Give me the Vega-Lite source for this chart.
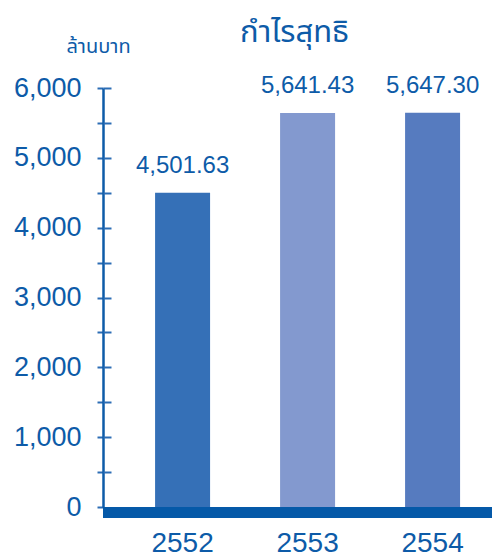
{
  "$schema": "https://vega.github.io/schema/vega-lite/v6.json",
  "autosize": {"type": "none"},
  "width": 389,
  "height": 419,
  "padding": {"left": 103, "top": 88, "right": 0, "bottom": 51},
  "background": "white",
  "config": {"view": {"stroke": null}, "font": "Liberation Sans"},
  "data": {
    "values": [
      {"year": "2552", "profit": 4501.63},
      {"year": "2553", "profit": 5641.43},
      {"year": "2554", "profit": 5647.30}
    ]
  },
  "layer": [
    {
      "mark": {"type": "bar"},
      "encoding": {
        "x": {
          "field": "year",
          "type": "nominal",
          "scale": {"paddingInner": 0.56, "paddingOuter": 0.336, "align": 0.62},
          "axis": {
            "title": null,
            "labelAngle": 0,
            "domain": false,
            "ticks": false,
            "tickSize": 0,
            "labelPadding": 22,
            "labelFontSize": 28,
            "labelColor": "#0d5ba8",
            "labelFont": "Liberation Sans"
          }
        },
        "y": {
          "field": "profit",
          "type": "quantitative",
          "scale": {"domain": [0, 6000], "nice": false},
          "axis": {
            "orient": "left",
            "values": [0, 500, 1000, 1500, 2000, 2500, 3000, 3500, 4000, 4500, 5000, 5500, 6000],
            "labelExpr": "datum.value % 1000 === 0 ? format(datum.value, ',') : ''",
            "grid": false,
            "domainColor": "#0d5ba8",
            "domainWidth": 2.5,
            "tickColor": "#2c6db5",
            "tickWidth": 2,
            "tickSize": 6,
            "labelPadding": 16,
            "labelFontSize": 27,
            "labelColor": "#0d5ba8",
            "labelFont": "Liberation Sans",
            "title": "ล้านบาท",
            "titleAngle": 0,
            "titleAlign": "center",
            "titleBaseline": "alphabetic",
            "titleX": -5,
            "titleY": -36,
            "titleFontSize": 20,
            "titleFontWeight": "normal",
            "titleColor": "#0d5ba8",
            "titleFont": "Noto Sans Thai, Noto Sans, sans-serif"
          }
        },
        "color": {
          "field": "year",
          "type": "nominal",
          "scale": {"domain": ["2552", "2553", "2554"], "range": ["#3570b7", "#8399cf", "#567bbf"]},
          "legend": null
        }
      }
    },
    {
      "mark": {"type": "text", "baseline": "alphabetic", "dy": -20, "fontSize": 24, "color": "#0d5ba8", "font": "Liberation Sans"},
      "encoding": {
        "x": {"field": "year", "type": "nominal", "axis": null},
        "y": {
          "field": "profit",
          "type": "quantitative",
          "scale": {"domain": [0, 6000], "nice": false},
          "axis": {
            "orient": "right",
            "offset": -389,
            "values": [500, 1000, 1500, 2000, 2500, 3000, 3500, 4000, 4500, 5000, 5500, 6000],
            "labels": false,
            "domain": false,
            "grid": false,
            "tickColor": "#2c6db5",
            "tickWidth": 2,
            "tickSize": 8,
            "title": "กำไรสุทธิ",
            "titleAngle": 0,
            "titleAlign": "center",
            "titleBaseline": "alphabetic",
            "titleX": 191,
            "titleY": -47,
            "titleFontSize": 31,
            "titleFontWeight": "normal",
            "titleColor": "#0d5ba8",
            "titleFont": "Noto Sans Thai, Noto Sans, sans-serif"
          }
        },
        "text": {"field": "profit", "type": "quantitative", "format": ",.2f"}
      }
    },
    {
      "mark": {"type": "rule", "color": "#0559a8", "strokeWidth": 11, "yOffset": 5.5},
      "encoding": {
        "y": {"datum": 0, "type": "quantitative", "axis": null}
      }
    }
  ],
  "resolve": {"axis": {"y": "independent", "x": "independent"}}
}
